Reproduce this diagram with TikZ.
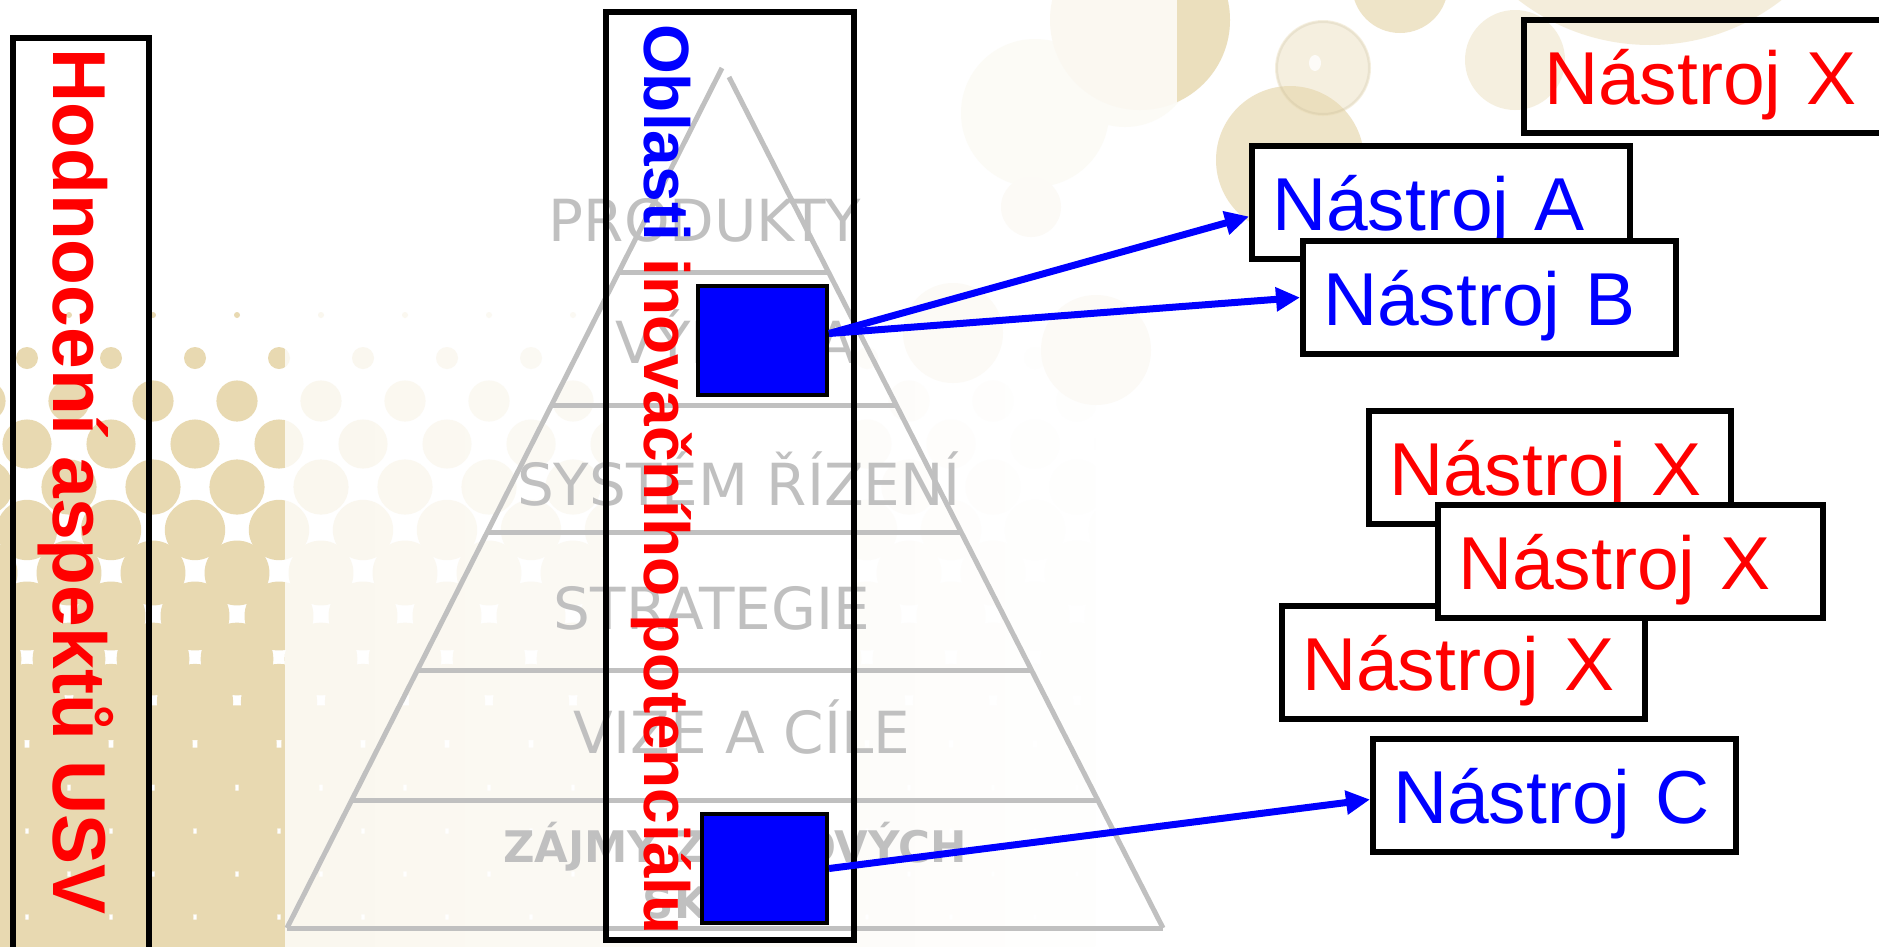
\documentclass[tikz,border=0pt]{standalone}
\usepackage{fontspec}
\usetikzlibrary{arrows.meta,calc}
\newfontfamily\arialfont{Liberation Sans}
\newfontfamily\dejavufont{DejaVu Sans}
\definecolor{beige}{RGB}{232,217,177}
\definecolor{pyrgray}{RGB}{192,192,192}

% staggered grid of dots whose radius grows downwards
\newcommand\dotlattice[1]{%
  \foreach \k in {0,...,15}{%
    \pgfmathsetmacro\yy{315+43*\k}%
    \pgfmathsetmacro\rr{\yy<358 ? 3 : min(40.5, 11+31*sqrt(max(0,(\yy-358)/450)))}%
    \pgfmathsetmacro\xo{mod(\k,2)==0 ? 69 : 27}%
    \foreach \j in {0,...,14}{%
      \fill[#1] ({\xo+84*\j-84},\yy) circle[radius=\rr pt];%
    }%
  }%
}

\tikzset{
  frame/.style={draw=black, line width=6pt},
  layer/.style={draw=pyrgray, line width=5pt},
  layerlabel/.style={text=pyrgray, font=\dejavufont\fontsize{58}{62}\selectfont, anchor=base, inner sep=0pt},
  zonelabel/.style={layerlabel, font=\dejavufont\bfseries\fontsize{43.5}{50}\selectfont},
  sidetitle/.style={rotate=-90, anchor=base west, inner sep=0pt, font=\arialfont\bfseries\fontsize{75}{80}\selectfont},
  area/.style={draw=black, line width=4pt, fill=blue, inner sep=0pt},
  tool/.style={draw=black, line width=6pt, fill=white, anchor=north west, inner xsep=20pt, inner ysep=0pt,
    minimum height=113pt, text height=55pt, text depth=0pt, align=left, font=\arialfont\fontsize{75}{80}\selectfont},
  link/.style={draw=blue, line width=7pt, -{Triangle[length=24pt,width=23pt]}},
}

\begin{document}
\begin{tikzpicture}[x=1pt, y=-1pt]
\useasboundingbox (0,0) rectangle (1879,946);
\clip (0,0) rectangle (1879,946);
\fill[white] (0,0) rectangle (1879,946);

% ---- background dots: solid strip on the left, fading out to the right
\begin{scope}
  \clip (0,0) rectangle (285,946);
  \dotlattice{beige}
\end{scope}
\foreach \i in {0,...,17}{
  \pgfmathtruncatemacro\c{22-1.15*\i}
  \begin{scope}
    \clip ({285+45*\i},0) rectangle ({330+45*\i},946);
    \dotlattice{beige!\c}
  \end{scope}
}

% ---- bubbles along the top
\fill[beige!11] (1035,113) circle[radius=74pt];
\fill[beige!11] (1125,57) circle[radius=70pt];
\fill[beige!18] (1140,20) circle[radius=90pt];
\begin{scope}
  \clip (1177,-10) rectangle (1300,200);
  \fill[beige!85] (1140,20) circle[radius=90pt];
\end{scope}
\fill[beige!12] (953,333) circle[radius=50pt];
\fill[beige!12] (1096,350) circle[radius=55pt];
\fill[beige!12] (1031,207) circle[radius=30pt];
\fill[beige, fill opacity=0.7] (1290,160) circle[radius=74pt];
\fill[beige, fill opacity=0.4] (1323,68) circle[radius=48pt];
\draw[beige!80!black, opacity=0.2, line width=2pt] (1323,68) circle[radius=46pt];
\fill[white, opacity=0.8] (1315,63) ellipse[x radius=6pt, y radius=8pt];
\fill[beige, fill opacity=0.7] (1400,-15) circle[radius=48pt];
\fill[beige, fill opacity=0.4] (1515,60) circle[radius=50pt];
\fill[beige, fill opacity=0.45] (1650,-170) circle[radius=215pt];

% ---- middle panel (white ground, border drawn later)
\node[fill=white, minimum width=248pt, minimum height=928pt, anchor=north west, inner sep=0pt, outer sep=0pt] (mbox) at (606,12) {};

% ---- pyramid
\draw[layer] (722,68) -- (287,928);
\draw[layer] (729,77) -- (1163,928);
\foreach \yy in {272,405,532,670,800,928}{
  \draw[layer] ({722-0.5064*(\yy-68)},\yy) -- ({729+0.510*(\yy-77)},\yy);
}
\node[layerlabel] (l1) at (705,241) {PRODUKTY};
\node[layerlabel] (l2) at (736,363) {VÝROBA};
\node[layerlabel] (l3) at (739,505) {SYSTÉM ŘÍZENÍ};
\node[layerlabel] (l4) at (712,629) {STRATEGIE};
\node[layerlabel] (l5) at (742,753) {VIZE A CÍLE};
\node[zonelabel] (l6a) at (735,862) {ZÁJMY ZÁJMOVÝCH};
\node[zonelabel] (l6b) at (735,918) {SKUPIN};

% ---- frames and vertical titles
\draw[frame] (mbox.north west) rectangle (mbox.south east);
\node[frame, minimum width=136pt, minimum height=930pt, anchor=north west, inner sep=0pt] (lbox) at (10,35) {};
\node[sidetitle, text=red] (ltitle) at (53,48) {Hodnocení aspektů USV};
\node[sidetitle, font=\arialfont\bfseries\fontsize{64}{70}\selectfont] (mtitle) at (644,24)
  {\textcolor{blue}{Oblasti} \textcolor{red}{inovačního potenciálu}};

% ---- marked areas
\node[area, minimum width=129pt, minimum height=109pt] (sq1) at (762.5,340.5) {};
\node[area, minimum width=125pt, minimum height=109pt] (sq2) at (764.5,868.5) {};

% ---- tools
\node[tool, fill=none, text=red, text width=354pt] (tX1) at (1521,17) {Nástroj X};
\node[tool, text=blue, text width=338pt] (tA) at (1249,143) {Nástroj A};
\node[tool, text=blue, text width=333pt] (tB) at (1300,238) {Nástroj B};
\node[tool, text=red, text width=322pt] (tX2) at (1366,408) {Nástroj X};
\node[tool, text=red, text width=323pt] (tX4) at (1279,603) {Nástroj X};
\node[tool, text=red, text width=345pt] (tX3) at (1435,502) {Nástroj X};
\node[tool, text=blue, text width=323pt] (tC) at (1370,736) {Nástroj C};

% ---- links
\draw[link] ($(sq1.east)+(0,-7)$) -- ($(tA.west)+(0,14)$);
\draw[link] ($(sq1.east)+(0,-7)$) -- (tB.west);
\draw[link] (sq2.east) -- ($(tC.west)+(0,4)$);
\end{tikzpicture}
\end{document}
